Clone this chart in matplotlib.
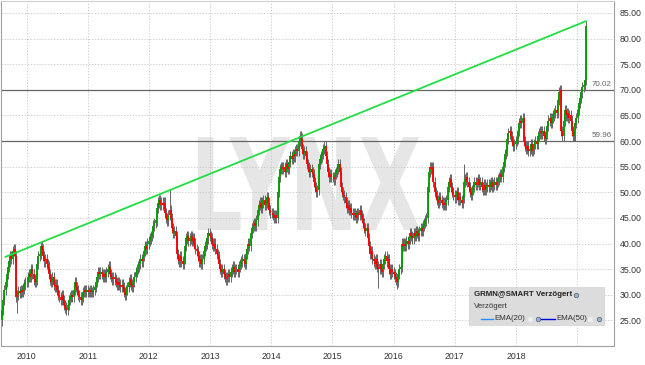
import numpy as np
import pandas as pd
import matplotlib
matplotlib.use('Agg')
import matplotlib.pyplot as plt
import matplotlib.dates as mdates
from matplotlib.textpath import TextPath
from matplotlib.patches import PathPatch, Rectangle
from matplotlib.font_manager import FontProperties
from matplotlib.transforms import Affine2D, blended_transform_factory
from matplotlib.ticker import FuncFormatter

plt.rcParams['font.family'] = ['Liberation Sans', 'DejaVu Sans']

# weekly closes (Fridays), GRMN Aug 2009 - Feb 2019
first_date = '2009-08-07'
first_open = 25.0
close_2009 = [27.0, 29.0, 31.0, 32.5, 34.0, 35.5, 36.5, 37.5, 37.0, 38.5, 39.0, 37.5, 29.5,
              30.0, 30.8, 30.3, 31.0, 30.5, 31.2, 32.0, 32.5]
close_2010 = [32.5, 33.5, 34.0, 33.5, 35.0, 34.0, 33.0, 32.5, 33.0, 36.0, 37.5, 38.0, 39.5,
              39.0, 37.5, 36.5, 37.0, 36.0, 35.5, 34.0, 33.0, 32.5, 33.5, 32.0, 31.5, 32.0,
              31.0, 30.0, 29.5, 29.0, 30.0, 29.0, 28.0, 27.5, 27.0, 28.0, 29.0, 29.5, 30.0,
              29.5, 31.0, 32.5, 31.5, 31.0, 30.0, 29.5, 29.0, 29.5, 30.5, 31.0, 30.5, 31.0, 30.5]
close_2011 = [30.5, 31.0, 30.5, 30.5, 31.0, 31.5, 32.5, 33.5, 34.5, 34.0, 34.5, 34.0, 33.5,
              34.0, 33.5, 34.5, 35.0, 35.5, 34.0, 33.5, 33.0, 33.5, 33.0, 32.5, 32.0, 32.5,
              32.0, 31.5, 32.0, 31.5, 30.5, 30.0, 31.0, 31.5, 32.5, 33.0, 32.0, 31.5, 32.5,
              33.5, 34.5, 35.0, 35.5, 36.0, 37.0, 36.5, 37.5, 38.5, 39.5, 39.0, 40.0, 40.5]
close_2012 = [41.0, 41.5, 42.0, 43.5, 44.0, 44.5, 47.0, 48.0, 48.5, 47.5, 48.0, 47.5, 48.0,
              46.0, 45.0, 44.5, 45.5, 46.5, 45.0, 43.0, 42.0, 42.5, 41.5, 38.0, 37.0, 36.5,
              37.5, 36.5, 36.0, 37.0, 39.5, 41.0, 41.5, 40.5, 41.0, 41.5, 40.5, 41.0, 40.0,
              39.0, 38.5, 37.5, 36.5, 37.0, 36.0, 37.0, 38.5, 39.5, 40.0, 41.0, 42.0, 41.5]
close_2013 = [41.0, 40.0, 39.5, 40.0, 39.0, 38.0, 37.5, 36.0, 35.0, 34.5, 35.0, 34.0, 33.5,
              33.0, 33.5, 34.0, 33.5, 34.5, 35.0, 35.5, 34.5, 35.0, 35.0, 34.5, 35.5, 36.0,
              36.5, 37.0, 36.5, 36.0, 38.0, 39.0, 40.0, 39.5, 42.0, 43.0, 43.5, 44.0, 43.5,
              44.5, 46.5, 47.5, 48.0, 47.0, 48.0, 48.5, 47.5, 48.0, 49.0, 48.0, 46.5, 46.0]
close_2014 = [46.0, 45.5, 45.0, 45.5, 45.0, 50.0, 53.0, 54.5, 55.0, 54.5, 55.0, 54.0, 55.5,
              55.0, 54.5, 56.0, 57.0, 56.5, 57.5, 57.0, 58.0, 58.5, 58.0, 60.0, 61.0, 60.5,
              58.5, 57.5, 58.0, 57.0, 55.5, 55.0, 54.0, 54.5, 54.0, 53.5, 52.0, 51.0, 50.0,
              50.5, 55.5, 56.5, 57.0, 57.5, 58.5, 59.0, 57.0, 55.5, 54.0, 53.0, 53.5, 53.0]
close_2015 = [53.0, 52.5, 53.5, 54.0, 54.5, 55.5, 54.0, 51.0, 50.0, 49.5, 49.0, 48.0, 47.0,
              47.5, 46.5, 47.0, 46.0, 45.5, 46.0, 45.5, 45.0, 46.0, 45.5, 46.5, 45.5, 45.0,
              44.0, 43.0, 42.5, 43.0, 41.0, 39.5, 38.0, 38.5, 37.0, 36.5, 36.0, 37.0, 35.5,
              35.0, 36.0, 35.0, 34.5, 36.0, 37.0, 37.5, 36.5, 37.0, 35.0, 34.0, 35.0, 34.5]
close_2016 = [34.0, 33.5, 33.0, 32.5, 34.0, 35.0, 35.5, 40.0, 39.5, 40.0, 39.5, 40.5, 40.0,
              41.0, 42.0, 41.5, 41.0, 42.0, 41.5, 42.5, 42.0, 41.5, 42.5, 43.0, 42.5, 43.5,
              44.0, 44.5, 45.0, 51.0, 54.0, 55.0, 54.5, 55.0, 52.0, 50.0, 49.5, 48.5, 48.0,
              49.0, 48.5, 48.0, 47.5, 48.0, 47.5, 48.5, 51.0, 52.0, 52.5, 51.0, 50.0, 49.5, 49.0]
close_2017 = [49.5, 50.0, 48.5, 49.0, 48.5, 48.0, 49.0, 52.0, 52.5, 53.0, 52.0, 51.0, 50.0,
              49.5, 50.5, 51.0, 52.0, 51.5, 52.0, 52.5, 51.5, 52.0, 51.0, 50.5, 51.5, 50.5,
              51.0, 51.5, 51.0, 51.5, 52.0, 51.0, 51.5, 52.0, 51.5, 52.0, 52.5, 53.0, 53.5,
              53.0, 55.0, 56.0, 57.5, 58.0, 60.5, 61.5, 62.0, 61.0, 60.0, 59.0, 59.5, 60.0]
close_2018 = [60.5, 62.0, 63.5, 64.0, 63.5, 64.5, 60.0, 59.0, 58.5, 59.0, 58.0, 58.5, 59.5,
              58.0, 58.5, 59.5, 60.0, 59.5, 61.0, 61.5, 62.0, 61.5, 62.0, 61.0, 60.5, 61.5,
              63.0, 64.0, 64.5, 63.5, 64.5, 65.0, 65.5, 66.0, 65.5, 68.0, 69.5, 70.0, 62.0,
              61.0, 64.0, 66.0, 65.0, 65.5, 64.5, 65.0, 64.0, 62.0, 61.0, 62.5, 63.5, 64.5]
close_2019 = [66.0, 67.5, 68.5, 69.5, 70.5, 71.0, 72.0, 82.5]

# long shadows that stand out from the rest
spike_high_dates = ['2012-05-04', '2014-06-27', '2017-02-24', '2018-09-21', '2019-02-22']
spike_high_values = [50.7, 61.8, 55.6, 70.3, 83.3]
spike_low_dates = ['2009-11-06', '2015-10-02', '2016-01-22', '2018-12-21']
spike_low_values = [26.4, 31.4, 31.2, 59.96]
wick_pad = 1.0

# horizontal levels and trend line
levels = [70.02, 59.96]
trend_dates = ['2009-08-28', '2019-02-22']
trend_values = [37.4, 83.4]

year_ticks = list(range(2010, 2020))
y_ticks = list(range(25, 90, 5))

closes = (close_2009 + close_2010 + close_2011 + close_2012 + close_2013 + close_2014
          + close_2015 + close_2016 + close_2017 + close_2018 + close_2019)
dates = pd.date_range(first_date, periods=len(closes), freq='W-FRI')

x = mdates.date2num(dates)
c = np.array(closes)
o = np.r_[first_open, c[:-1]]
hi = np.maximum(o, c) + wick_pad
lo = np.minimum(o, c) - wick_pad
for d, v in zip(spike_high_dates, spike_high_values):
    i = dates.get_indexer([pd.Timestamp(d)], method='nearest')[0]
    hi[i] = max(hi[i], v)
for d, v in zip(spike_low_dates, spike_low_values):
    i = dates.get_indexer([pd.Timestamp(d)], method='nearest')[0]
    lo[i] = min(lo[i], v)

W, H = 645, 365
fig = plt.figure(figsize=(W / 100, H / 100), dpi=100)
ax = fig.add_axes([1 / W, 19 / H, 613 / W, 345 / H])
ax.set_xlim(mdates.date2num(pd.Timestamp('2009-08-01')), mdates.date2num(pd.Timestamp('2019-08-09')))
ax.set_ylim(20, 87.34)

# watermark
tp = TextPath((0, 0), 'LYNX', size=1, prop=FontProperties(family='DejaVu Sans', weight='bold'))
bb = tp.get_extents()
wm_x0, wm_x1, wm_top, wm_bot = 198, 420, 137, 230
tr = (Affine2D().translate(-bb.x0, -bb.y0)
      .scale((wm_x1 - wm_x0) / bb.width / W, (wm_bot - wm_top) / bb.height / H)
      .translate(wm_x0 / W, 1 - wm_bot / H) + fig.transFigure)
ax.add_patch(PathPatch(tp, transform=tr, facecolor='#e6e6e6', edgecolor='none', zorder=0.2))

ax.set_axisbelow(True)
ax.grid(True, color='#c4c4c4', linestyle=(0, (1.5, 2)), linewidth=0.6)

# levels
for lv in levels:
    ax.axhline(lv, color='#666666', linewidth=0.9, zorder=1.5)
    ax.text(0.9967, lv + 0.4, f'{lv:.2f}', transform=blended_transform_factory(ax.transAxes, ax.transData),
            ha='right', va='bottom', fontsize=5.8, color='#666666')

# candles
up = c >= o
ax.vlines(x, lo, hi, color='#666666', linewidth=0.7, zorder=2)
ax.vlines(x[up], o[up], c[up], color='#00a000', linewidth=1.35, zorder=3)
ax.vlines(x[~up], c[~up], o[~up], color='#ff0000', linewidth=1.35, zorder=3)

# trend line
ax.plot(mdates.date2num(pd.to_datetime(trend_dates)), trend_values, color='#22dd44', linewidth=1.3, zorder=4)

# axes styling
ax.yaxis.tick_right()
ax.set_yticks(y_ticks)
ax.yaxis.set_major_formatter(FuncFormatter(lambda v, p: f'{v:.2f}'))
tick_pos = [mdates.date2num(pd.Timestamp(f'{y}-01-01')) for y in year_ticks]
ax.set_xticks(tick_pos)
ax.set_xticklabels([str(y) if y < 2019 else '' for y in year_ticks])
ax.tick_params(axis='both', length=0, labelsize=6.3, colors='#333333')
ax.tick_params(axis='y', pad=4)
ax.tick_params(axis='x', pad=4)
for s in ax.spines.values():
    s.set_color('#a0a0a0')
    s.set_linewidth(0.8)
ax.spines['top'].set_color('#d0d0d0')

# legend box
def fx(px):
    return px / W

def fy(py):
    return 1 - py / H

fig.add_artist(Rectangle((fx(469), fy(325)), (604 - 469) / W, (325 - 287) / H, transform=fig.transFigure,
                         facecolor='#dcdcdc', edgecolor='#d2d2d2', linewidth=0.5, zorder=5))
fig.text(fx(474), fy(295), 'GRMN@SMART Verzögert', fontsize=5.7, fontweight='bold', color='#222222',
         va='center', ha='left', zorder=6)
fig.text(fx(474), fy(307), 'Verzögert', fontsize=5.7, color='#333333', va='center', ha='left', zorder=6)
fig.add_artist(plt.Line2D([fx(481), fx(493)], [fy(319), fy(319)], color='#2a8cff', linewidth=1.0, zorder=6))
fig.text(fx(494), fy(319), 'EMA(20)', fontsize=5.7, color='#333333', va='center', ha='left', zorder=6)
fig.add_artist(plt.Line2D([fx(540), fx(555)], [fy(319), fy(319)], color='#0000dd', linewidth=1.0, zorder=6))
fig.text(fx(556), fy(319), 'EMA(50)', fontsize=5.7, color='#333333', va='center', ha='left', zorder=6)
for sq in [530, 590]:
    fig.add_artist(plt.Line2D([fx(sq)], [fy(319)], marker='s', markersize=3.2, markerfacecolor='#f4f4f4',
                              markeredgecolor='#e8e8e8', linestyle='none', zorder=6))
for ic in [(576, 295), (538, 319), (599, 319)]:
    fig.add_artist(plt.Line2D([fx(ic[0])], [fy(ic[1])], marker='o', markersize=3.2, markerfacecolor='#9fb2cc',
                              markeredgecolor='#4a5f80', markeredgewidth=0.5, linestyle='none', zorder=6))

fig.savefig('out.png', dpi=100, facecolor='white')
